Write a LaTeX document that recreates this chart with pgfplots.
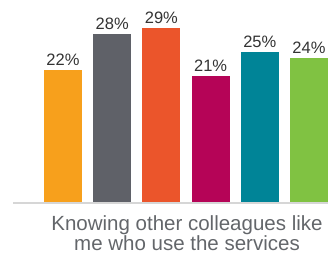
\documentclass[border=0pt]{standalone}
\usepackage{pgfplots}
\pgfplotsset{compat=1.18}
\usepackage{fontspec}
\setmainfont{Liberation Sans}
\definecolor{cOrange}{HTML}{F7A01C}
\definecolor{cGray}{HTML}{5F6168}
\definecolor{cRed}{HTML}{EB552B}
\definecolor{cMagenta}{HTML}{B50457}
\definecolor{cTeal}{HTML}{008497}
\definecolor{cGreen}{HTML}{80C242}
\definecolor{labelc}{HTML}{333333}
\definecolor{textc}{HTML}{63666A}
\definecolor{linec}{HTML}{D6D6D6}
\begin{document}
\begin{tikzpicture}
\begin{axis}[
  scale only axis, width=328pt, height=258pt,
  xmin=-1.2805, xmax=5.386, ymin=-9.3333, ymax=33.6667,
  hide axis, clip=false,
  ybar, bar width=38pt, bar shift=0pt,
  /pgf/number format/assume math mode=true,
  every axis plot/.append style={draw=none},
  nodes near coords={\pgfmathprintnumber{\pgfplotspointmeta}\%},
  every node near coord/.append style={anchor=base, inner sep=0pt, yshift=4pt,
    font=\fontsize{16.5}{19}\selectfont, text=labelc},
]
\addplot[fill=cOrange] coordinates {(0,22)};
\addplot[fill=cGray] coordinates {(1,28)};
\addplot[fill=cRed] coordinates {(2,29)};
\addplot[fill=cMagenta] coordinates {(3,21)};
\addplot[fill=cTeal] coordinates {(4,25)};
\addplot[fill=cGreen] coordinates {(5,24)};
\draw[linec, line width=2pt] (axis cs:-1.010,-0.2) -- (axis cs:5.386,-0.2);
\node[anchor=base, inner sep=0pt, text=textc, font=\fontsize{20.5}{22}\selectfont] at (axis cs:2.52,-4.833) {Knowing other colleagues like};
\node[anchor=base, inner sep=0pt, text=textc, font=\fontsize{20.5}{22}\selectfont] at (axis cs:2.52,-8.167) {me who use the services};
\end{axis}
\pgfresetboundingbox
\path (current axis.south west) rectangle (current axis.north east);
\end{tikzpicture}
\end{document}
